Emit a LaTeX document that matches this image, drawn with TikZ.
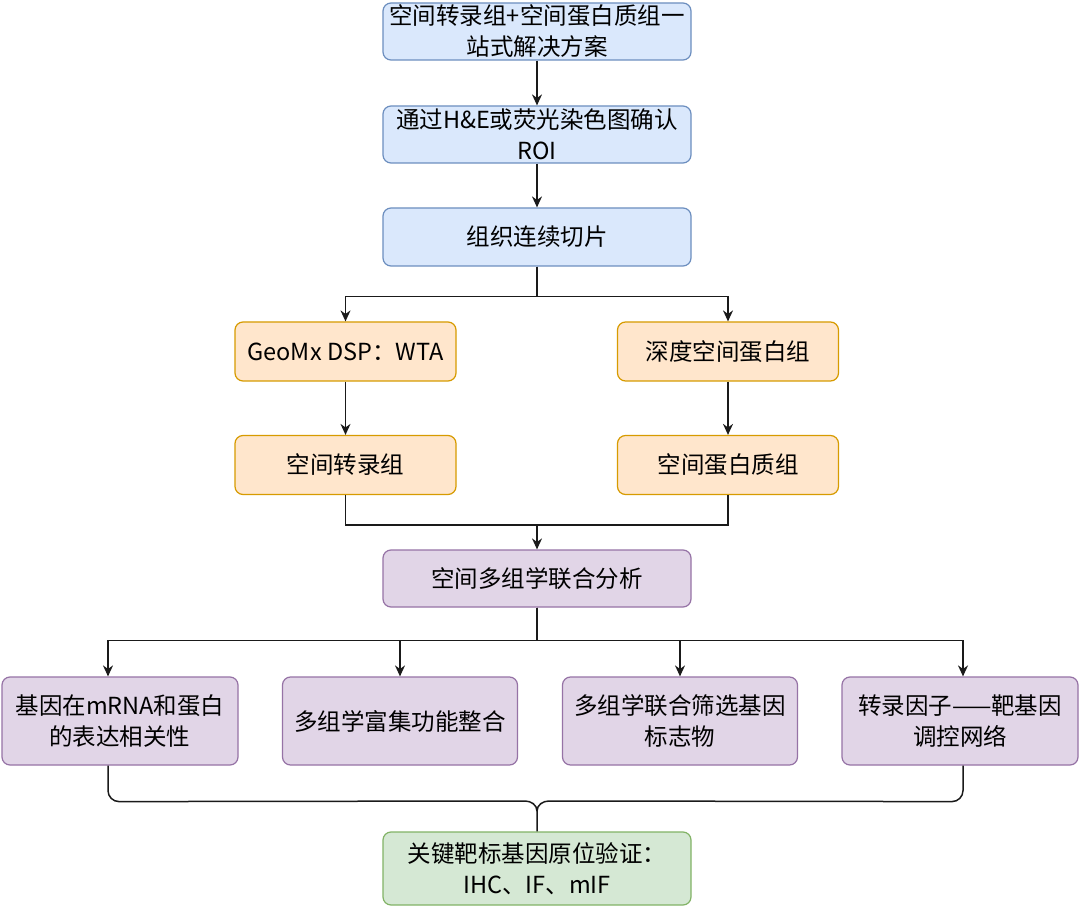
\documentclass[tikz,border=0pt]{standalone}
\usepackage{fontspec}
\setmainfont{Noto Sans CJK SC}
\usetikzlibrary{arrows.meta}

\definecolor{blueFill}{HTML}{DAE8FC}
\definecolor{blueDraw}{HTML}{6C8EBF}
\definecolor{orangeFill}{HTML}{FFE6CC}
\definecolor{orangeDraw}{HTML}{D79B00}
\definecolor{purpleFill}{HTML}{E1D5E7}
\definecolor{purpleDraw}{HTML}{9673A6}
\definecolor{greenFill}{HTML}{D5E8D4}
\definecolor{greenDraw}{HTML}{82B366}
\definecolor{lineColor}{HTML}{1A1A1A}

\tikzset{
  box/.style={rounded corners=8pt, line width=1.2pt, align=center, inner sep=0pt,
    font=\fontsize{23.5}{31}\selectfont, text=black},
  bluebox/.style={box, fill=blueFill, draw=blueDraw, minimum width=308, minimum height=57},
  orangebox/.style={box, fill=orangeFill, draw=orangeDraw, minimum width=221, minimum height=59},
  purplebox/.style={box, fill=purpleFill, draw=purpleDraw},
  greenbox/.style={box, fill=greenFill, draw=greenDraw, minimum width=308, minimum height=73},
  arr/.style={draw=lineColor, line width=1.5pt, -{Stealth[length=11pt,width=10pt]}},
  link/.style={draw=lineColor, line width=1.5pt}
}

\begin{document}
\begin{tikzpicture}[x=1pt,y=-1pt]
\path[use as bounding box,fill=white] (0,0) rectangle (1080,909);

% top column
\node[bluebox] (plan) at (537,31.5) {空间转录组+空间蛋白质组一\\站式解决方案};
\node[bluebox] (roi) at (537,134.5) {通过H\&E或荧光染色图确认\\ROI};
\node[bluebox, minimum height=58] (slice) at (537,237) {组织连续切片};

% two branches
\node[orangebox] (geomx) at (345.5,351.5) {GeoMx DSP：WTA};
\node[orangebox] (deep) at (728,351.5) {深度空间蛋白组};
\node[orangebox] (trans) at (345.5,465) {空间转录组};
\node[orangebox] (prot) at (728,465) {空间蛋白质组};

\node[purplebox, minimum width=308, minimum height=57] (joint) at (537,578.5) {空间多组学联合分析};

% results
\node[purplebox, minimum width=236, minimum height=88] (corr) at (120,721) {基因在mRNA和蛋白\\的表达相关性};
\node[purplebox, minimum width=235, minimum height=88] (enrich) at (400,721) {多组学富集功能整合};
\node[purplebox, minimum width=235, minimum height=88] (marker) at (680,721) {多组学联合筛选基因\\标志物};
\node[purplebox, minimum width=236, minimum height=88] (tf) at (960,721) {转录因子——靶基因\\调控网络};

\node[greenbox] (valid) at (537,868.5) {关键靶标基因原位验证：\\IHC、IF、mIF};

% connectors
\draw[arr] (plan) -- (roi);
\draw[arr] (roi) -- (slice);
\draw[arr] (slice.south) -- ++(0,30) -| (geomx.north);
\draw[arr] (slice.south) -- ++(0,30) -| (deep.north);
\draw[arr] (geomx) -- (trans);
\draw[arr] (deep) -- (prot);
\draw[link] (trans.south) |- (537,525);
\draw[link] (prot.south) |- (537,525);
\draw[arr] (537,525) -- (joint.north);
\draw[arr] (joint.south) -- ++(0,33) -| ([xshift=-12pt]corr.north);
\draw[arr] (joint.south) -- ++(0,33) -| (enrich.north);
\draw[arr] (joint.south) -- ++(0,33) -| (marker.north);
\draw[arr] (joint.south) -- ++(0,33) -| ([xshift=3pt]tf.north);

% brace
\coordinate (cusp) at (537,811);
\draw[link] ([xshift=-12pt]corr.south) -- ++(0,25) to[out=-90,in=180] ++(11,11) -- (525,801)
  to[out=0,in=90] (cusp) -- (valid.north);
\draw[link] ([xshift=3pt]tf.south) -- ++(0,25) to[out=-90,in=0] ++(-11,11) -- (549,801)
  to[out=180,in=90] (cusp);
\end{tikzpicture}
\end{document}
